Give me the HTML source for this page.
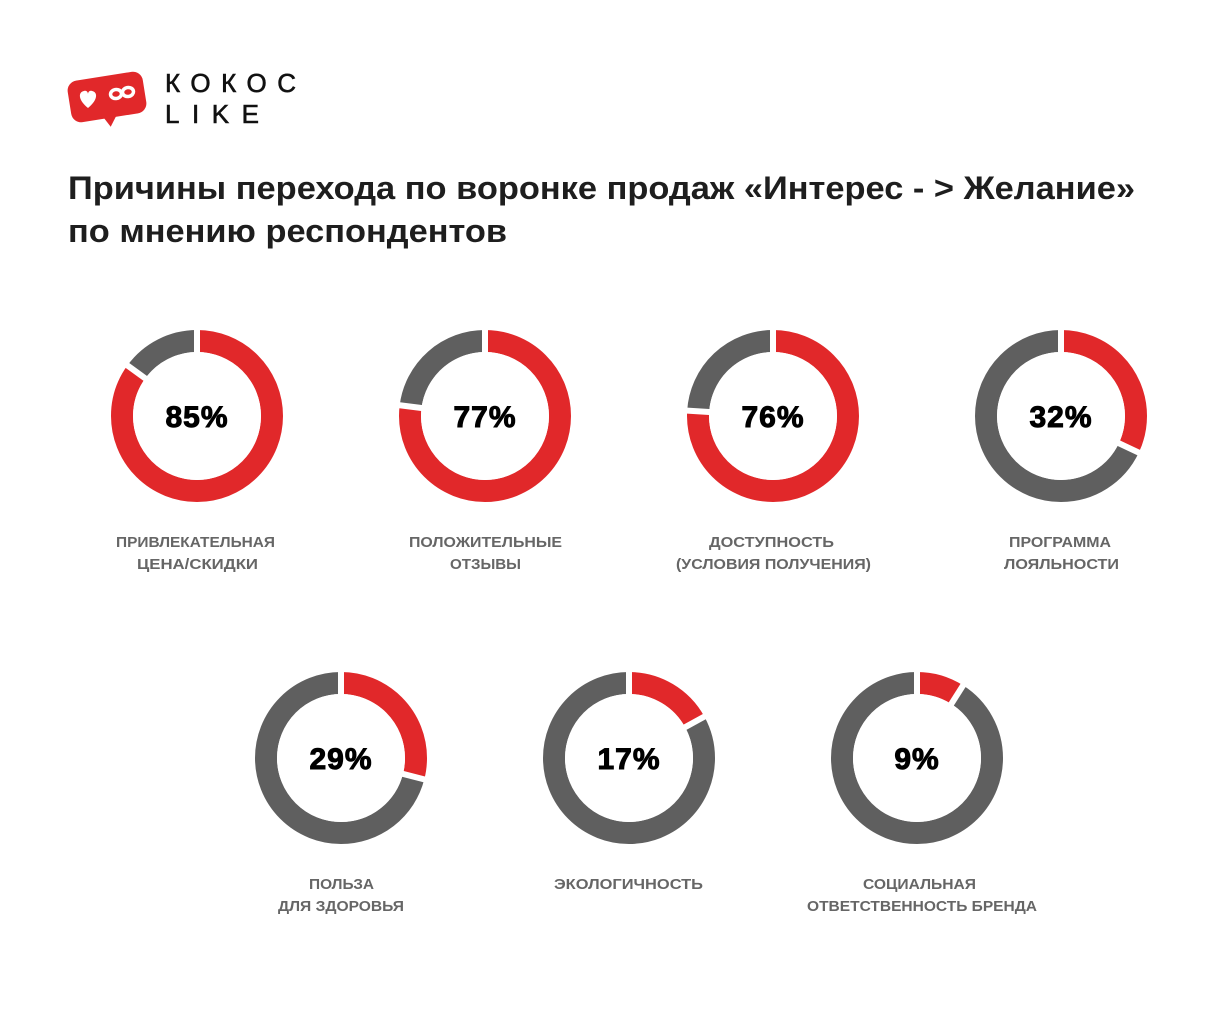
<!DOCTYPE html>
<html><head><meta charset="utf-8"><style>
html,body{margin:0;padding:0;background:#fff;}
svg{display:block;font-family:"Liberation Sans",sans-serif;}
</style></head><body>
<svg width="1228" height="1024" viewBox="0 0 1228 1024">
<!-- logo -->
<g transform="rotate(-9 107 97)">
<rect x="69" y="76" width="76" height="42" rx="10" fill="#e1282a"/>
<path d="M100 116 L114 116 L106 127 Z" fill="#e1282a"/>
</g>
<path d="M88 108 C78 100 78 92 84 91 C87 90 88 93 88 94 C88 93 89 90 92 91 C98 92 98 100 88 108 Z" fill="#fff"/>
<g fill="none" stroke="#fff" stroke-width="3.5">
<ellipse cx="116" cy="94" rx="5.5" ry="4.5" transform="rotate(-10 116 94)"/>
<ellipse cx="128" cy="92" rx="5.5" ry="4.5" transform="rotate(-10 128 92)"/>
</g>
<text x="165" y="92" font-size="26" fill="#111" stroke="#111" stroke-width="0.6" textLength="131" lengthAdjust="spacing">КОКОС</text>
<text x="165" y="123" font-size="26" fill="#111" stroke="#111" stroke-width="0.6" textLength="94" lengthAdjust="spacing">LIKE</text>
<!-- title -->
<text x="68" y="199" font-size="32" font-weight="bold" fill="#1e1e1e" textLength="1067" lengthAdjust="spacingAndGlyphs">Причины перехода по воронке продаж «Интерес - &gt; Желание»</text>
<text x="68" y="242" font-size="32" font-weight="bold" fill="#1e1e1e" textLength="439" lengthAdjust="spacingAndGlyphs">по мнению респондентов</text>

<g stroke-width="22" fill="none">
<circle cx="197" cy="416" r="75" stroke="#e1282a" stroke-dasharray="400.55 471.24" transform="rotate(-90 197 416)"/>
<circle cx="197" cy="416" r="75" stroke="#5f5f5f" stroke-dasharray="70.69 471.24" stroke-dashoffset="-400.55" transform="rotate(-90 197 416)"/>
<circle cx="485" cy="416" r="75" stroke="#e1282a" stroke-dasharray="362.85 471.24" transform="rotate(-90 485 416)"/>
<circle cx="485" cy="416" r="75" stroke="#5f5f5f" stroke-dasharray="108.39 471.24" stroke-dashoffset="-362.85" transform="rotate(-90 485 416)"/>
<circle cx="773" cy="416" r="75" stroke="#e1282a" stroke-dasharray="358.14 471.24" transform="rotate(-90 773 416)"/>
<circle cx="773" cy="416" r="75" stroke="#5f5f5f" stroke-dasharray="113.1 471.24" stroke-dashoffset="-358.14" transform="rotate(-90 773 416)"/>
<circle cx="1061" cy="416" r="75" stroke="#e1282a" stroke-dasharray="150.8 471.24" transform="rotate(-90 1061 416)"/>
<circle cx="1061" cy="416" r="75" stroke="#5f5f5f" stroke-dasharray="320.44 471.24" stroke-dashoffset="-150.8" transform="rotate(-90 1061 416)"/>
<circle cx="341" cy="758" r="75" stroke="#e1282a" stroke-dasharray="136.66 471.24" transform="rotate(-90 341 758)"/>
<circle cx="341" cy="758" r="75" stroke="#5f5f5f" stroke-dasharray="334.58 471.24" stroke-dashoffset="-136.66" transform="rotate(-90 341 758)"/>
<circle cx="629" cy="758" r="75" stroke="#e1282a" stroke-dasharray="80.11 471.24" transform="rotate(-90 629 758)"/>
<circle cx="629" cy="758" r="75" stroke="#5f5f5f" stroke-dasharray="391.13 471.24" stroke-dashoffset="-80.11" transform="rotate(-90 629 758)"/>
<circle cx="917" cy="758" r="75" stroke="#e1282a" stroke-dasharray="42.41 471.24" transform="rotate(-90 917 758)"/>
<circle cx="917" cy="758" r="75" stroke="#5f5f5f" stroke-dasharray="428.83 471.24" stroke-dashoffset="-42.41" transform="rotate(-90 917 758)"/>
</g>
<g stroke="#fff" stroke-width="6">
<line x1="197" y1="416" x2="197" y2="322"/><line x1="197" y1="416" x2="197" y2="322" transform="rotate(306 197 416)"/>
<line x1="485" y1="416" x2="485" y2="322"/><line x1="485" y1="416" x2="485" y2="322" transform="rotate(277.2 485 416)"/>
<line x1="773" y1="416" x2="773" y2="322"/><line x1="773" y1="416" x2="773" y2="322" transform="rotate(273.6 773 416)"/>
<line x1="1061" y1="416" x2="1061" y2="322"/><line x1="1061" y1="416" x2="1061" y2="322" transform="rotate(115.2 1061 416)"/>
<line x1="341" y1="758" x2="341" y2="664"/><line x1="341" y1="758" x2="341" y2="664" transform="rotate(104.4 341 758)"/>
<line x1="629" y1="758" x2="629" y2="664"/><line x1="629" y1="758" x2="629" y2="664" transform="rotate(61.2 629 758)"/>
<line x1="917" y1="758" x2="917" y2="664"/><line x1="917" y1="758" x2="917" y2="664" transform="rotate(32.4 917 758)"/>
</g>
<circle cx="197" cy="416" r="64" fill="#fff"/><circle cx="485" cy="416" r="64" fill="#fff"/><circle cx="773" cy="416" r="64" fill="#fff"/><circle cx="1061" cy="416" r="64" fill="#fff"/>
<circle cx="341" cy="758" r="64" fill="#fff"/><circle cx="629" cy="758" r="64" fill="#fff"/><circle cx="917" cy="758" r="64" fill="#fff"/>

<g font-size="30" font-weight="bold" fill="#000" stroke="#000" stroke-width="1" text-anchor="middle" letter-spacing="1">
<text x="197" y="427">85%</text><text x="485" y="427">77%</text><text x="773" y="427">76%</text><text x="1061" y="427">32%</text>
<text x="341" y="769">29%</text><text x="629" y="769">17%</text><text x="917" y="769">9%</text>
</g>
<g font-size="14.5" font-weight="bold" fill="#666">
<text x="116" y="547" textLength="159" lengthAdjust="spacingAndGlyphs">ПРИВЛЕКАТЕЛЬНАЯ</text>
<text x="137" y="569" textLength="121" lengthAdjust="spacingAndGlyphs">ЦЕНА/СКИДКИ</text>
<text x="409" y="547" textLength="153" lengthAdjust="spacingAndGlyphs">ПОЛОЖИТЕЛЬНЫЕ</text>
<text x="450" y="569" textLength="71" lengthAdjust="spacingAndGlyphs">ОТЗЫВЫ</text>
<text x="709" y="547" textLength="125" lengthAdjust="spacingAndGlyphs">ДОСТУПНОСТЬ</text>
<text x="676" y="569" textLength="195" lengthAdjust="spacingAndGlyphs">(УСЛОВИЯ ПОЛУЧЕНИЯ)</text>
<text x="1009" y="547" textLength="102" lengthAdjust="spacingAndGlyphs">ПРОГРАММА</text>
<text x="1004" y="569" textLength="115" lengthAdjust="spacingAndGlyphs">ЛОЯЛЬНОСТИ</text>
<text x="309" y="889" textLength="65" lengthAdjust="spacingAndGlyphs">ПОЛЬЗА</text>
<text x="278" y="911" textLength="126" lengthAdjust="spacingAndGlyphs">ДЛЯ ЗДОРОВЬЯ</text>
<text x="554" y="889" textLength="149" lengthAdjust="spacingAndGlyphs">ЭКОЛОГИЧНОСТЬ</text>
<text x="863" y="889" textLength="113" lengthAdjust="spacingAndGlyphs">СОЦИАЛЬНАЯ</text>
<text x="807" y="911" textLength="230" lengthAdjust="spacingAndGlyphs">ОТВЕТСТВЕННОСТЬ БРЕНДА</text>
</g>
</svg>
</body></html>
